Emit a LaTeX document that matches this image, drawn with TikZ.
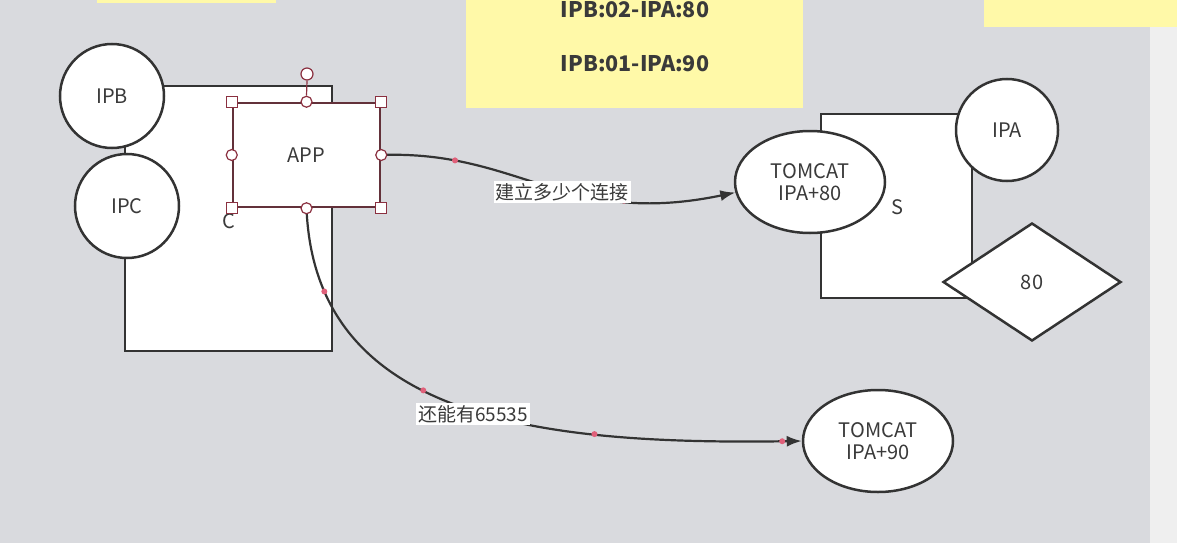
\documentclass[tikz,border=0pt]{standalone}
\usepackage{fontspec}
\setmainfont{Noto Sans CJK SC}
\usetikzlibrary{shapes.geometric,arrows.meta}
\definecolor{bg}{HTML}{D9DADE}
\definecolor{strip}{HTML}{EFEFEF}
\definecolor{note}{HTML}{FFF9A8}
\definecolor{lc}{HTML}{333333}
\definecolor{tc}{HTML}{3A3A3A}
\definecolor{selc}{HTML}{8B3040}
\definecolor{dotc}{HTML}{E0607A}
\begin{document}
\begin{tikzpicture}[x=1pt,y=-1pt,
  shp/.style={draw=lc, fill=white, line width=2.5pt, text=tc, font=\fontsize{20pt}{24pt}\selectfont, inner sep=0pt},
  notebox/.style={fill=note, draw=none, inner sep=0pt},
  notetext/.style={text=tc, font=\fontsize{21.5pt}{25pt}\selectfont\bfseries, inner sep=0pt},
  lbl/.style={text=tc, font=\fontsize{20pt}{24pt}\selectfont, inner sep=0pt},
  clbl/.style={text=tc, fill=white, font=\fontsize{19pt}{23pt}\selectfont, inner sep=2pt},
  conn/.style={draw=lc, line width=2.2pt, -{Latex[length=15pt,width=11pt]}},
  hsq/.style={draw=selc, fill=white, line width=1.2pt, minimum size=11pt, inner sep=0pt, rectangle},
  hci/.style={draw=selc, fill=white, line width=1.2pt, minimum size=11pt, inner sep=0pt, circle},
  pdot/.style={fill=dotc, circle, minimum size=6pt, inner sep=0pt}
]
\fill[bg] (0,0) rectangle (1177,543);
\useasboundingbox (0,0) rectangle (1177,543);
\fill[strip] (1150,0) rectangle (1177,543);

% sticky notes
\node[notebox, minimum width=179pt, minimum height=3pt] (nleft) at (186.5,1.5) {};
\node[notebox, minimum width=337pt, minimum height=108pt] (nmid) at (634.5,54) {};
\node[notebox, minimum width=193pt, minimum height=27pt] (nright) at (1080.5,13.5) {};
\node[notetext] (nt1) at (635,10) {IPB:02-IPA:80};
\node[notetext] (nt2) at (635,64) {IPB:01-IPA:90};

% client
\node[shp, rectangle, minimum width=207pt, minimum height=265pt] (c) at (228.5,218.5) {};
\node[lbl] (clabel) at (229,221) {C};
\node[shp, circle, minimum size=104pt] (ipb) at (112,96) {IPB};
\node[shp, circle, minimum size=104pt] (ipc) at (127,206) {IPC};
\node[shp, rectangle, draw=selc!55!lc, minimum width=147pt, minimum height=104pt] (app) at (306.5,155) {APP};

% selection handles
\node[hci, minimum size=12pt] (rot) at (307,74) {};
\node[hci] (hn) at (app.north) {};
\draw[selc, line width=1.2pt] (rot.south) -- (hn.north);
\node[hsq] (hnw) at (app.north west) {};
\node[hsq] (hne) at (app.north east) {};
\node[hsq] (hsw) at (app.south west) {};
\node[hsq] (hse) at (app.south east) {};
\node[hci] (hw) at (app.west) {};

% server
\node[shp, rectangle, minimum width=151pt, minimum height=184pt] (s) at (896.5,206) {};
\node[lbl] (slabel) at (897,207) {S};
\node[shp, ellipse, minimum width=150pt, minimum height=102pt, align=center] (t1) at (810,182) {TOMCAT\\[-2pt]IPA+80};
\node[shp, circle, minimum size=102pt] (ipa) at (1007,130) {IPA};
\node[shp, diamond, minimum width=178pt, minimum height=118pt] (d80) at (1032,282) {80};

\node[shp, ellipse, minimum width=150pt, minimum height=102pt, align=center] (t2) at (878,441) {TOMCAT\\[-2pt]IPA+90};

% connectors
\draw[conn] (app.east) .. controls (520,150) and (565,228) .. (t1.188)
  node[pdot, pos=0.2] (d1) {} node[pdot, pos=0.74] (d2) {};
\node[hci] (he) at (app.east) {};
\draw[conn] (app.south) .. controls (315,420) and (540,445) .. (t2.west)
  node[pdot, pos=0.15] (d3) {} node[pdot, pos=0.43] (d4) {} node[pdot, pos=0.72] (d5) {} node[pdot, pos=0.975] (d6) {};
\node[hci] (hs) at (app.south) {};

\node[clbl] (l1) at (562,192) {建立多少个连接};
\node[clbl] (l2) at (473,414) {还能有65535};
\end{tikzpicture}
\end{document}
